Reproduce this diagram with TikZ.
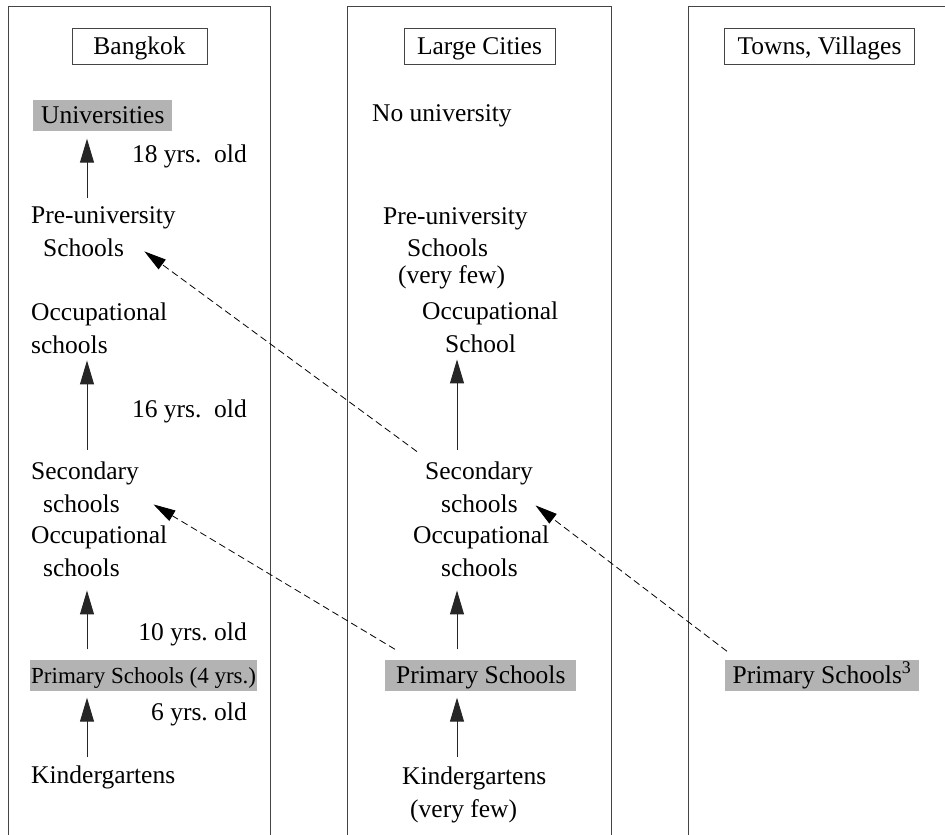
\documentclass[tikz,border=0pt]{standalone}
\usepackage{fontspec}
\setmainfont{Liberation Serif}
\usetikzlibrary{arrows.meta}
\definecolor{framegray}{HTML}{444444}
\definecolor{stagegray}{HTML}{B3B3B3}

\begin{document}
\begin{tikzpicture}[
    x=1pt, y=-1pt,
    font=\fontsize{25.5}{32.5}\selectfont,
    >={Triangle[length=24pt, width=14pt]},
    frame/.style={draw=framegray, line width=1pt},
    title/.style={draw=framegray, line width=0.8pt, inner xsep=13pt, inner ysep=6pt, text height=20pt, text depth=4pt},
    stage/.style={fill=stagegray, inner xsep=8pt, inner ysep=3.5pt, text height=20pt, text depth=4pt, anchor=base west},
    school/.style={anchor=base west, align=left, inner sep=0pt},
    age/.style={anchor=base east, inner sep=0pt},
    up/.style={->, draw=black!85, line width=1pt},
    link/.style={-{Triangle[length=22pt, width=12pt]}, draw=black, line width=0.8pt, dash pattern=on 7pt off 4pt},
]
    \useasboundingbox (0,0) rectangle (945,835);

    % =====================================================================
    % PANELS
    % =====================================================================
    \draw[frame] (8,836) -- (8,6) -- (270,6) -- (270,836);
    \draw[frame] (347,836) -- (347,6) -- (611,6) -- (611,836);
    \draw[frame] (688,836) -- (688,6) -- (946,6);

    \node[title, minimum width=135pt] (b_title) at (139.5,46) {Bangkok};
    \node[title] (m_title) at (479.5,46) {Large Cities};
    \node[title] (r_title) at (819.5,46) {Towns, Villages};

    % =====================================================================
    % BANGKOK
    % =====================================================================
    \coordinate (b_axis) at (87,0);
    \node[stage] (b_uni) at (33,123) {Universities};
    \node[school] (b_pre) at (31,256) {Pre-university\\\hspace*{12pt}Schools};
    \node[school] (b_occ) at (31,353) {Occupational\\schools};
    \node[school] (b_sec) at (31,512) {Secondary\\\hspace*{12pt}schools};
    \node[school] (b_occ2) at (31,576) {Occupational\\\hspace*{12pt}schools};
    \node[stage, inner xsep=1pt, font=\fontsize{23}{30}\selectfont] (b_prim) at (30,683) {Primary Schools (4 yrs.)};
    \node[school] (b_kg) at (31,783) {Kindergartens};

    \node[age] (b_age18) at (247,162) {18 yrs.\ \ old};
    \node[age] (b_age16) at (247,417) {16 yrs.\ \ old};
    \node[age] (b_age10) at (247,640) {10 yrs.\ old};
    \node[age] (b_age6) at (247,720) {6 yrs.\ old};

    \draw[up, shorten <=8pt, shorten >=8pt] (b_pre.north -| b_axis) -- (b_uni.south -| b_axis);
    \draw[up, shorten <=12pt, shorten >=7pt] (b_sec.north -| b_axis) -- (b_occ.south -| b_axis);
    \draw[up, shorten <=10pt, shorten >=14pt] (b_prim.north -| b_axis) -- (b_occ2.south -| b_axis);
    \draw[up, shorten <=8pt, shorten >=7pt] (b_kg.north -| b_axis) -- (b_prim.south -| b_axis);

    % =====================================================================
    % LARGE CITIES
    % =====================================================================
    \coordinate (m_axis) at (457,0);
    \node[school] (m_none) at (372,121) {No university};
    \node[school] (m_pre) at (383,283) {Pre-university\\\hspace*{24pt}Schools\\[-6pt]\hspace*{15pt}(very few)};
    \node[school] (m_occ) at (422,352) {Occupational\\\hspace*{23pt}School};
    \node[school] (m_sec) at (425,512) {Secondary\\\hspace*{16pt}schools};
    \node[school] (m_occ2) at (413,576) {Occupational\\\hspace*{28pt}schools};
    \node[stage, inner xsep=11pt] (m_prim) at (385,683) {Primary Schools};
    \node[school] (m_kg) at (402,817) {Kindergartens\\\hspace*{8pt}(very few)};

    \draw[up, shorten <=12pt, shorten >=7pt] (m_sec.north -| m_axis) -- (m_occ.south -| m_axis);
    \draw[up, shorten <=10pt, shorten >=14pt] (m_prim.north -| m_axis) -- (m_occ2.south -| m_axis);
    \draw[up, shorten <=10pt, shorten >=7pt] (m_kg.north -| m_axis) -- (m_prim.south -| m_axis);

    % =====================================================================
    % TOWNS, VILLAGES
    % =====================================================================
    \node[stage, inner xsep=7.5pt] (r_prim) at (725,683) {Primary Schools\textsuperscript{3}};

    % transfers between regions
    \draw[link] ([shift={(10,-10)}]m_prim.north west) -- ([shift={(14.5,-8)}]b_sec.south east);
    \draw[link] ([shift={(-8,-10)}]m_sec.north west) -- ([shift={(41,-5)}]b_pre.south);
    \draw[link] ([shift={(2,-8)}]r_prim.north west) -- ([shift={(2.5,-7)}]m_sec.south east);

\end{tikzpicture}
\end{document}
